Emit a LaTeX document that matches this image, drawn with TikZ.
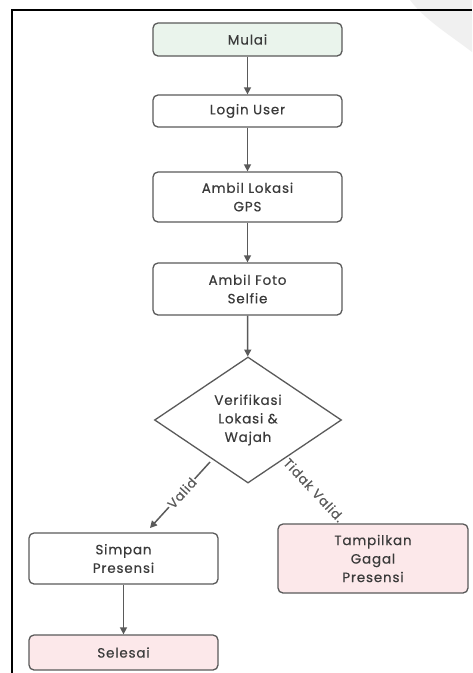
\documentclass[tikz,border=0pt]{standalone}
\usepackage{fontspec}
\setmainfont{Poppins}[LetterSpace=6,FakeBold=0.4]
\usetikzlibrary{shapes.geometric,arrows.meta}
\definecolor{edge}{HTML}{5A5A5A}
\definecolor{ink}{HTML}{3A3A3A}
\definecolor{startfill}{HTML}{EAF4EC}
\definecolor{endfill}{HTML}{FCE8EA}
\begin{document}
\begin{tikzpicture}[x=1pt,y=-1pt,
  every node/.style={font=\fontsize{13.5}{18.5}\selectfont, text=ink},
  procbox/.style={draw=edge, line width=1.3pt, rounded corners=5pt, fill=white,
    minimum width=189pt, align=center, inner sep=0pt},
  decision/.style={draw=edge, line width=1.3pt, diamond, fill=white,
    minimum width=187pt, minimum height=126pt, inner sep=0pt, align=center},
  flow/.style={draw=edge, line width=1.5pt, -{Triangle[length=7pt,width=7pt]}},
  lbl/.style={font=\fontsize{13}{15}\selectfont, text=edge, fill=white, inner sep=1pt}
]
\useasboundingbox (0,0) rectangle (472,673);
\fill[white] (0,0) rectangle (472,673);
% faint corner mark
\fill[gray!12] (410,0) -- (472,0) -- (472,52) .. controls (450,35) and (425,20) .. (410,0) -- cycle;
% frame lines
\draw[black, line width=1.5pt] (12,673) -- (12,10) -- (472,10);

\node[procbox, fill=startfill, minimum height=33pt] (start) at (247.5,39.5) {Mulai};
\node[procbox, minimum height=32pt] (login) at (247.5,111) {Login User};
\node[procbox, minimum height=50pt] (gps) at (247.5,197) {Ambil Lokasi\\GPS};
\node[procbox, minimum height=52pt] (foto) at (247.5,289) {Ambil Foto\\Selfie};
\node[decision] (verif) at (248,420) {Verifikasi\\Lokasi \&\\Wajah};
\node[procbox, minimum height=51pt] (simpan) at (123.5,558.5) {Simpan\\Presensi};
\node[procbox, fill=endfill, minimum height=35pt] (selesai) at (123.5,652.5) {Selesai};
\node[procbox, fill=endfill, minimum width=190pt, minimum height=69pt] (gagal) at (373,558.5) {Tampilkan\\Gagal\\Presensi};

\coordinate (vstart) at (210,462);
\coordinate (vend) at (150,528);

\draw[flow] (start) -- (login);
\draw[flow] (login) -- (gps);
\draw[flow] (gps) -- (foto);
\draw[flow] (foto) -- (verif);
\draw[flow] (vstart) -- (vend) node[lbl, pos=0.47, sloped] {Valid};
\draw[flow] (simpan) -- (selesai);
\node[lbl, fill=none, rotate=-47] (tv) at (314,490) {Tidak Valid.};
\end{tikzpicture}
\end{document}
